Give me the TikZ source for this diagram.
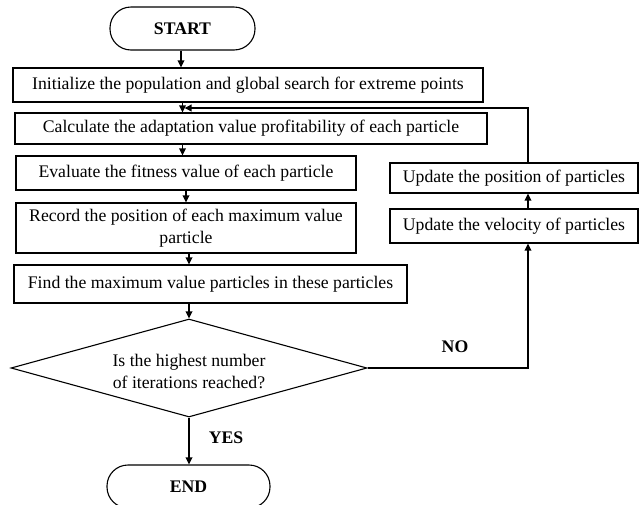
\documentclass[tikz,border=0pt]{standalone}
\usepackage{fontspec}
\setmainfont{Liberation Serif}
\usetikzlibrary{shapes.geometric,arrows.meta}
\begin{document}
\begin{tikzpicture}[x=1pt,y=-1pt,
  font=\fontsize{17.7}{22}\selectfont,
  box/.style={draw,line width=1.1pt,inner sep=0pt,align=center},
  term/.style={draw,line width=1.1pt,rounded corners=21pt,inner sep=0pt,font=\fontsize{17.7}{22}\selectfont\bfseries},
  decision/.style={draw,shape=diamond,line width=1.1pt,inner sep=0pt,aspect=3.63,align=center},
  arr/.style={line width=1.7pt,-{Triangle[length=7pt,width=6.5pt]}},
  lbl/.style={font=\fontsize{17.7}{22}\selectfont\bfseries}]
\useasboundingbox (0,0) rectangle (640,504);
\node[term,minimum width=145pt,minimum height=43pt] (start) at (182.5,28.5) {START};
\node[box,minimum width=470pt,minimum height=34pt] (init) at (248,85) {Initialize the population and global search for extreme points};
\node[box,minimum width=472pt,minimum height=31pt] (calc) at (251,128.5) {Calculate the adaptation value profitability of each particle};
\node[box,minimum width=340pt,minimum height=34pt] (eval) at (186,173) {Evaluate the fitness value of each particle};
\node[box,minimum width=340pt,minimum height=50pt] (rec) at (186,228) {Record the position of each maximum value\\particle};
\node[box,minimum width=393pt,minimum height=38pt] (find) at (210.5,284) {Find the maximum value particles in these particles};
\node[decision,minimum width=356pt,minimum height=98pt] (dec) at (189,368) {};
\node[align=center,inner sep=0pt] (dectext) at (189,371) {Is the highest number\\of iterations reached?};
\node[term,minimum width=163pt,minimum height=43pt] (end) at (188.5,486.5) {END};
\node[box,minimum width=248pt,minimum height=30pt] (pos) at (514,178) {Update the position of particles};
\node[box,minimum width=248pt,minimum height=34pt] (vel) at (514,226) {Update the velocity of particles};
\node[lbl] (no) at (455,347) {NO};
\node[lbl] (yes) at (226,438) {YES};
\coordinate (lx) at (528,0);
\coordinate (join) at (184.5,108);
\draw[arr] (start.south -| 181,0) -- (init.north -| 181,0);
\draw[arr] (init.south -| start) -- (calc.north -| start);
\draw[arr] (calc.south -| start) -- (eval.north -| start);
\draw[arr] (eval.south) -- (rec.north);
\draw[arr] (rec.south -| dec) -- (find.north -| dec);
\draw[arr] (find.south -| dec) -- (dec.north);
\draw[arr] (dec.south) -- (end.north -| dec);
\draw[arr] (dec.east) -| (vel.south -| lx);
\draw[arr] (vel.north -| lx) -- (pos.south -| lx);
\draw[arr,line width=2pt] (pos.north -| lx) |- (join);
\end{tikzpicture}
\end{document}
